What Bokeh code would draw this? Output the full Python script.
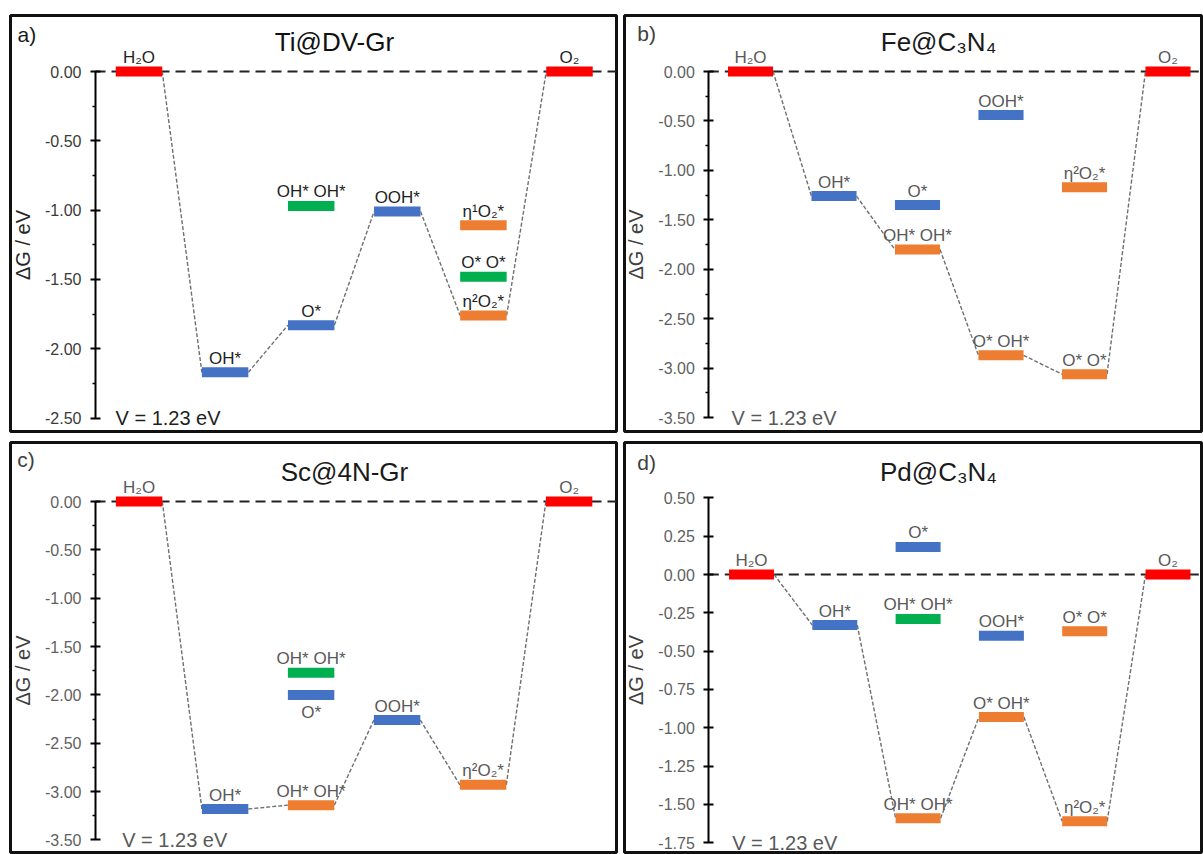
from bokeh.plotting import figure
from bokeh.models import Range1d, LinearAxis, FixedTicker, PrintfTickFormatter, Label
from bokeh.layouts import row, column
from bokeh.embed import file_html
from bokeh.resources import INLINE
from bokeh.core.properties import value

# ---------------- data ----------------
ZERO = 0.0
V_TEXT = "V = 1.23 eV"
AXIS_LABEL = "ΔG / eV"

A_TAG, A_TITLE = "a)", "Ti@DV-Gr"
A_NAMES = ["H₂O", "OH*", "O*", "OOH*", "η²O₂*", "O₂", "OH* OH*", "η¹O₂*", "O* O*"]
A_STEP = [0, 1, 2, 3, 4, 5, 2, 4, 4]
A_DG = [0.00, -2.17, -1.83, -1.01, -1.76, 0.00, -0.97, -1.11, -1.48]
A_GROUP = ["gas", "mono", "mono", "mono", "bi", "gas", "alt", "bi", "alt"]
A_PATH = [0, 1, 2, 3, 4, 5]
A_BELOW = []
A_TICKS = [0.0, -0.5, -1.0, -1.5, -2.0, -2.5]
A_MINOR = [-0.25, -0.75, -1.25, -1.75, -2.25]

B_TAG, B_TITLE = "b)", "Fe@C₃N₄"
B_NAMES = ["H₂O", "OH*", "OH* OH*", "O* OH*", "O* O*", "O₂", "O*", "OOH*", "η²O₂*"]
B_STEP = [0, 1, 2, 3, 4, 5, 2, 3, 4]
B_DG = [0.00, -1.26, -1.80, -2.87, -3.06, 0.00, -1.35, -0.44, -1.17]
B_GROUP = ["gas", "mono", "bi", "bi", "bi", "gas", "mono", "mono", "bi"]
B_PATH = [0, 1, 2, 3, 4, 5]
B_BELOW = []
B_TICKS = [0.0, -0.5, -1.0, -1.5, -2.0, -2.5, -3.0, -3.5]
B_MINOR = [-0.25, -0.75, -1.25, -1.75, -2.25, -2.75, -3.25]

C_TAG, C_TITLE = "c)", "Sc@4N-Gr"
C_NAMES = ["H₂O", "OH*", "OH* OH*", "OOH*", "η²O₂*", "O₂", "OH* OH*", "O*"]
C_STEP = [0, 1, 2, 3, 4, 5, 2, 2]
C_DG = [0.00, -3.18, -3.14, -2.26, -2.93, 0.00, -1.77, -2.00]
C_GROUP = ["gas", "mono", "bi", "mono", "bi", "gas", "alt", "mono"]
C_PATH = [0, 1, 2, 3, 4, 5]
C_BELOW = [7]
C_TICKS = [0.0, -0.5, -1.0, -1.5, -2.0, -2.5, -3.0, -3.5]
C_MINOR = [-0.25, -0.75, -1.25, -1.75, -2.25, -2.75, -3.25]

D_TAG, D_TITLE = "d)", "Pd@C₃N₄"
D_NAMES = ["H₂O", "OH*", "OH* OH*", "O* OH*", "η²O₂*", "O₂", "O*", "OH* OH*", "OOH*", "O* O*"]
D_STEP = [0, 1, 2, 3, 4, 5, 2, 2, 3, 4]
D_DG = [0.00, -0.33, -1.59, -0.93, -1.61, 0.00, 0.18, -0.29, -0.40, -0.37]
D_GROUP = ["gas", "mono", "bi", "bi", "bi", "gas", "mono", "alt", "mono", "bi"]
D_PATH = [0, 1, 2, 3, 4, 5]
D_BELOW = []
D_TICKS = [0.5, 0.25, 0.0, -0.25, -0.5, -0.75, -1.0, -1.25, -1.5, -1.75]
D_MINOR = []

# ---------------- style / layout ----------------
GROUP_COLORS = {"gas": "#FF0000", "mono": "#4472C4", "bi": "#ED7D31", "alt": "#00B050"}
FONT = "Liberation Sans"
BAR_W = 0.54

# frame geometry in pixels (frame-relative positions); mb = (top, right, bottom, left)
GEO_A = dict(fw=606, fh=416, x0=128.5, step=86.1, y0=56, unit=138.6, mb=(15, 4, 5, 10),
             axis=85, tag=(7, 19), title=(324, 26), vx=105)
GEO_B = dict(fw=577, fh=416, x0=126.0, step=83.5, y0=56, unit=98.9, mb=(15, 2, 5, 4),
             axis=84.3, tag=(12.7, 18), title=(314, 26), vx=107)
GEO_C = dict(fw=606, fh=410, x0=128.6, step=86.0, y0=59, unit=96.7, mb=(6, 4, 2, 10),
             axis=85, tag=(6.7, 17), title=(334, 29), vx=111.7)
GEO_D = dict(fw=577, fh=410, x0=127.0, step=83.3, y0=132, unit=153.3, mb=(6, 2, 2, 4),
             axis=84.3, tag=(12.7, 20), title=(314, 29), vx=107.7)

STY_DARK = dict(label="#1f1f1f", tick="#3a3a3a", axis_label="#262626", title="#111111", tag="#1a1a1a")
STY_GRAY = dict(label="#595959", tick="#5f5f5f", axis_label="#404040", title="#1a1a1a", tag="#404040")


def build(tag, title, names, steps, dg, groups, path, below, ticks, minor, g, s):
    xr = Range1d(-g["x0"] / g["step"], (g["fw"] - g["x0"]) / g["step"])
    yr = Range1d(-(g["fh"] - g["y0"]) / g["unit"], g["y0"] / g["unit"])

    def fx(px):
        return (px - g["x0"]) / g["step"]

    def fy(py):
        return (g["y0"] - py) / g["unit"]

    top, right, bottom, left = g["mb"]
    p = figure(frame_width=g["fw"], frame_height=g["fh"], x_range=xr, y_range=yr,
               x_axis_type=None, y_axis_type=None, toolbar_location=None,
               output_backend="svg", min_border_top=top, min_border_right=right,
               min_border_bottom=bottom, min_border_left=left)
    p.title.visible = False
    p.outline_line_color = "#111111"
    p.outline_line_width = 3
    p.background_fill_color = "white"
    p.border_fill_color = "white"

    ax_x = fx(g["axis"])
    axis = LinearAxis(fixed_location=ax_x, bounds=(min(ticks), max(ticks)),
                      ticker=FixedTicker(ticks=ticks, minor_ticks=minor),
                      formatter=PrintfTickFormatter(format="%.2f"),
                      axis_label=AXIS_LABEL, axis_label_standoff=8,
                      axis_label_text_font=FONT, axis_label_text_font_size="20px",
                      axis_label_text_font_style="normal",
                      axis_label_text_color=s["axis_label"],
                      major_label_text_font=FONT, major_label_text_font_size="16px",
                      major_label_text_color=s["tick"], major_label_standoff=9,
                      axis_line_color="black", axis_line_width=2,
                      major_tick_line_color="black", major_tick_line_width=2,
                      major_tick_in=5, major_tick_out=5,
                      minor_tick_line_color="black", minor_tick_line_width=1.5,
                      minor_tick_in=0, minor_tick_out=3)
    p.add_layout(axis, "left")

    # reference level
    p.segment(x0=[ax_x], y0=[ZERO], x1=[xr.end], y1=[ZERO],
              line_color="#222222", line_width=2, line_dash="10 6")

    # connectors along the reaction path
    cx0, cy0, cx1, cy1 = [], [], [], []
    for a, b in zip(path[:-1], path[1:]):
        cx0.append(steps[a] + BAR_W / 2)
        cy0.append(dg[a])
        cx1.append(steps[b] - BAR_W / 2)
        cy1.append(dg[b])
    p.segment(x0=cx0, y0=cy0, x1=cx1, y1=cy1, line_color="#6f6f6f",
              line_width=1.4, line_dash="4 2")

    # energy levels
    colors = [GROUP_COLORS[k] for k in groups]
    p.rect(x=steps, y=dg, width=BAR_W, height=10, height_units="screen",
           fill_color=colors, line_color=None)

    # level labels
    ab = [i for i in range(len(names)) if i not in below]
    bl = [i for i in range(len(names)) if i in below]
    if ab:
        p.text(x=[steps[i] for i in ab], y=[dg[i] for i in ab], text=[names[i] for i in ab],
               text_align="center", text_baseline="alphabetic", y_offset=-14,
               text_font=value(FONT), text_font_size="17px", text_color=s["label"])
    if bl:
        p.text(x=[steps[i] for i in bl], y=[dg[i] for i in bl], text=[names[i] for i in bl],
               text_align="center", text_baseline="top", y_offset=8,
               text_font=value(FONT), text_font_size="17px", text_color=s["label"])

    p.add_layout(Label(x=fx(g["tag"][0]), y=fy(g["tag"][1]), text=tag,
                       text_align="left", text_baseline="middle", text_font=FONT,
                       text_font_size="21px", text_color=s["tag"]))
    p.add_layout(Label(x=fx(g["title"][0]), y=fy(g["title"][1]), text=title,
                       text_align="center", text_baseline="middle", text_font=FONT,
                       text_font_size="26px", text_color=s["title"]))
    p.add_layout(Label(x=fx(g["vx"]), y=min(ticks), text=V_TEXT,
                       text_align="left", text_baseline="middle", text_font=FONT,
                       text_font_size="20px", text_color=s["label"]))
    return p


pa = build(A_TAG, A_TITLE, A_NAMES, A_STEP, A_DG, A_GROUP, A_PATH, A_BELOW, A_TICKS, A_MINOR, GEO_A, STY_DARK)
pb = build(B_TAG, B_TITLE, B_NAMES, B_STEP, B_DG, B_GROUP, B_PATH, B_BELOW, B_TICKS, B_MINOR, GEO_B, STY_GRAY)
pc = build(C_TAG, C_TITLE, C_NAMES, C_STEP, C_DG, C_GROUP, C_PATH, C_BELOW, C_TICKS, C_MINOR, GEO_C, STY_GRAY)
pd = build(D_TAG, D_TITLE, D_NAMES, D_STEP, D_DG, D_GROUP, D_PATH, D_BELOW, D_TICKS, D_MINOR, GEO_D, STY_GRAY)

layout = column(row(pa, pb), row(pc, pd))
open("out.html", "w").write(file_html(layout, INLINE))
